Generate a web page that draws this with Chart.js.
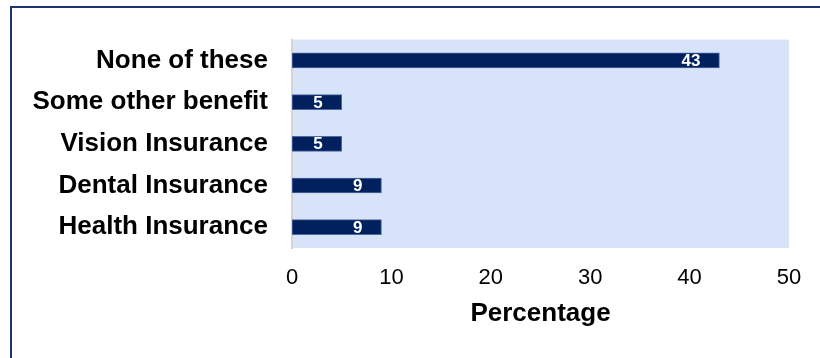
<!DOCTYPE html>
<html>
<head>
<meta charset="utf-8">
<script src="https://cdn.jsdelivr.net/npm/chart.js@4"></script>
<style>
  html, body { margin: 0; padding: 0; background: #fff; }
  #wrap { position: relative; width: 820px; height: 358px; overflow: hidden; }
  #frame {
    position: absolute; left: 10px; top: 6px; width: 900px; height: 400px;
    border-top: 2px solid #1c3470; border-left: 2px solid #1c3470;
  }
  canvas { position: absolute; left: 0; top: 0; }
</style>
</head>
<body>
<div id="wrap">
  <div id="frame"></div>
  <canvas id="chart" width="820" height="358"></canvas>
</div>
<script>
const categories = ["None of these", "Some other benefit", "Vision Insurance", "Dental Insurance", "Health Insurance"];
const percentages = [43, 5, 5, 9, 9];
const xTicks = [0, 10, 20, 30, 40, 50];

// light blue panel behind the bars
const plotBackground = {
  id: "plotBackground",
  beforeDraw(chart) {
    const { ctx, chartArea: a } = chart;
    ctx.save();
    ctx.fillStyle = "#d6e3f8";
    ctx.fillRect(a.left, a.top, a.right - a.left, a.bottom - a.top);
    ctx.restore();
  },
};

// white value labels inside the bar ends
const valueLabels = {
  id: "valueLabels",
  afterDatasetsDraw(chart) {
    const { ctx } = chart;
    const meta = chart.getDatasetMeta(0);
    ctx.save();
    ctx.font = "bold 17px 'Liberation Sans', Arial, sans-serif";
    ctx.fillStyle = "#ffffff";
    ctx.textAlign = "right";
    ctx.textBaseline = "middle";
    meta.data.forEach((bar, i) => {
      ctx.fillText(String(percentages[i]), bar.x - 19, bar.y + 1);
    });
    ctx.restore();
  },
};

new Chart(document.getElementById("chart"), {
  type: "bar",
  data: {
    labels: categories,
    datasets: [
      {
        data: percentages,
        backgroundColor: "#00205e",
        borderColor: "#4f68a0",
        borderWidth: 1,
        borderSkipped: false,
        barThickness: 15,
      },
    ],
  },
  options: {
    indexAxis: "y",
    responsive: false,
    animation: false,
    layout: { padding: { top: 37, right: 31, left: 0, bottom: 0 } },
    plugins: {
      legend: { display: false },
      tooltip: { enabled: false },
    },
    scales: {
      x: {
        min: 0,
        max: 50,
        afterBuildTicks(scale) {
          scale.ticks = xTicks.map((v) => ({ value: v }));
        },
        afterFit(scale) {
          scale.height = 110;
        },
        grid: { display: false, drawTicks: false },
        border: { display: false },
        ticks: {
          padding: 17,
          color: "#000",
          font: { family: "'Liberation Sans', Arial, sans-serif", size: 22 },
        },
        title: {
          display: true,
          text: "Percentage",
          color: "#000",
          font: { family: "'Liberation Sans', Arial, sans-serif", size: 26, weight: "bold" },
          padding: { top: 0, bottom: 29 },
        },
      },
      y: {
        afterFit(scale) {
          scale.width = 292;
        },
        grid: { display: false, drawTicks: false },
        border: { display: true, color: "#d4d4d4", width: 2 },
        ticks: {
          padding: 24,
          color: "#000",
          font: { family: "'Liberation Sans', Arial, sans-serif", size: 26, weight: "bold" },
        },
      },
    },
  },
  plugins: [plotBackground, valueLabels],
});
</script>
</body>
</html>
